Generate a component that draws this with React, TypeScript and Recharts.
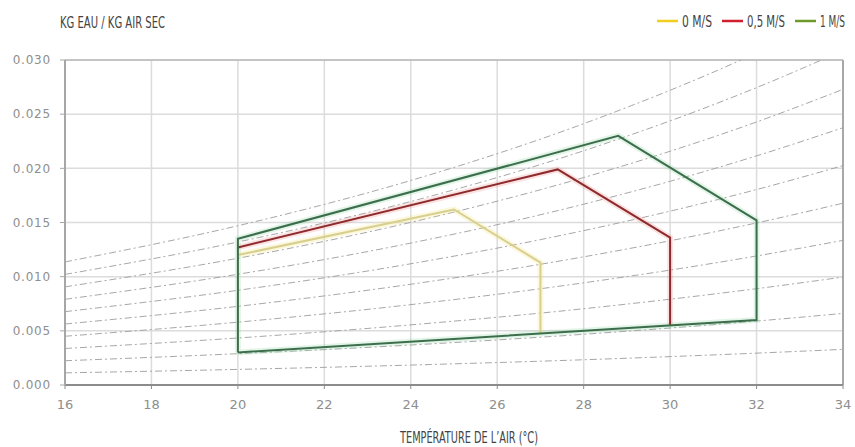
import React from 'react';
import {
  ComposedChart,
  Line,
  XAxis,
  YAxis,
  CartesianGrid,
  ReferenceLine,
  Legend,
  Label,
} from 'recharts';

// Axis ticks
const tempTicks = [16, 18, 20, 22, 24, 26, 28, 30, 32, 34];
const humidityTicks = [0, 0.005, 0.01, 0.015, 0.02, 0.025, 0.03];

// Relative-humidity curves (100 % down to 10 %), humidity ratio at each temperature
const curveTemps = [16, 20, 24, 28, 32, 34];
const rh100 = [0.01136, 0.0147, 0.01888, 0.02412, 0.03065, 0.0345];
const rh90 = [0.01021, 0.0132, 0.01694, 0.02162, 0.02745, 0.03087];
const rh80 = [0.00906, 0.0117, 0.01501, 0.01915, 0.02428, 0.02729];
const rh70 = [0.00791, 0.01022, 0.0131, 0.01669, 0.02115, 0.02375];
const rh60 = [0.00677, 0.00874, 0.01119, 0.01425, 0.01804, 0.02025];
const rh50 = [0.00563, 0.00726, 0.0093, 0.01183, 0.01496, 0.01678];
const rh40 = [0.0045, 0.0058, 0.00742, 0.00943, 0.01191, 0.01335];
const rh30 = [0.00337, 0.00434, 0.00555, 0.00704, 0.00889, 0.00996];
const rh20 = [0.00224, 0.00289, 0.00369, 0.00468, 0.0059, 0.00661];
const rh10 = [0.00112, 0.00144, 0.00184, 0.00233, 0.00294, 0.00329];
const rhCurves = [rh100, rh90, rh80, rh70, rh60, rh50, rh40, rh30, rh20, rh10];

// Comfort zone outlines for each air speed: temperature (°C), humidity ratio
const zone0Temp = [20, 25, 27, 27];
const zone0Hum = [0.012, 0.0162, 0.0113, 0.0048];
const zone05Temp = [20, 27.4, 30, 30];
const zone05Hum = [0.0127, 0.0199, 0.0136, 0.0055];
const zone1Temp = [20, 20, 28.8, 32, 32, 20];
const zone1Hum = [0.003, 0.0135, 0.023, 0.0152, 0.006, 0.003];

const legendLabels = ['0 M/S', '0,5 M/S', '1 M/S'];
const yAxisTitle = 'KG EAU / KG AIR SEC';
const xAxisTitle = 'TEMPÉRATURE DE L’AIR (°C)';

const toPoints = (ts: number[], ws: number[]) => ts.map((t, i) => ({ t, w: ws[i] }));

const zones = [
  { key: 'z0', data: toPoints(zone0Temp, zone0Hum), color: '#d8cf8e', halo: '#f3e27a' },
  { key: 'z05', data: toPoints(zone05Temp, zone05Hum), color: '#8e2a2c', halo: '#f08a8a' },
  { key: 'z1', data: toPoints(zone1Temp, zone1Hum), color: '#3c6e4c', halo: '#8fd6a4' },
];

const legendColors = ['#f2cd1f', '#d1202d', '#6e9a2b'];
const legendTextWidths = [30, 38, 25];

const condensedFont = "'Liberation Sans Narrow', 'DejaVu Sans Condensed', 'Liberation Sans', sans-serif";

const renderLegend = () => {
  let x = 6;
  const items = legendLabels.map((label, i) => {
    const sx = x;
    x += 25 + legendTextWidths[i] + 10;
    return (
      <g key={label}>
        <line x1={sx} x2={sx + 21} y1={11} y2={11} stroke={legendColors[i]} strokeWidth={2.5} />
        <text
          x={sx + 25 + legendTextWidths[i]}
          y={17}
          fontSize={15}
          fontFamily={condensedFont}
          fill="#444"
          textAnchor="end"
          textLength={legendTextWidths[i]}
          lengthAdjust="spacingAndGlyphs"
        >
          {label}
        </text>
      </g>
    );
  });
  return (
    <svg width={204} height={22} style={{ display: 'block', overflow: 'visible' }}>
      {items}
    </svg>
  );
};

export default function App() {
  return (
    <div style={{ position: 'absolute', left: 0, top: 0, width: 855, height: 447, background: '#fff' }}>
      <ComposedChart width={855} height={447} margin={{ top: 60, right: 12, bottom: 0, left: 0 }}>
        <CartesianGrid stroke="#dcdcdc" strokeWidth={1.5} />
        <XAxis
          type="number"
          dataKey="t"
          domain={[16, 34]}
          ticks={tempTicks}
          allowDataOverflow
          height={62}
          tickSize={4}
          tickMargin={11}
          axisLine={{ stroke: '#8c8c8c', strokeWidth: 2 }}
          tickLine={{ stroke: '#8c8c8c' }}
          tick={{ fontSize: 13, fill: '#8e8e8e', fontFamily: 'DejaVu Sans' }}
        >
          <Label
            content={(props: any) => {
              const vb = props.viewBox;
              return (
                <text
                  x={vb.x + vb.width / 2 + 15}
                  y={vb.y + 58}
                  fontSize={15}
                  fontFamily={condensedFont}
                  fill="#444"
                  textAnchor="middle"
                  textLength={138}
                  lengthAdjust="spacingAndGlyphs"
                >
                  {xAxisTitle}
                </text>
              );
            }}
          />
        </XAxis>
        <YAxis
          type="number"
          dataKey="w"
          domain={[0, 0.03]}
          ticks={humidityTicks}
          allowDataOverflow
          width={65}
          tickSize={5}
          tickMargin={9}
          tickFormatter={(v: number) => v.toFixed(3)}
          axisLine={{ stroke: '#a6a6a6', strokeWidth: 2 }}
          tickLine={{ stroke: '#a6a6a6' }}
          tick={{ fontSize: 12, fill: '#8e8e8e', fontFamily: 'DejaVu Sans', letterSpacing: 0.8 }}
        >
          <Label
            content={(props: any) => {
              const vb = props.viewBox;
              return (
                <text
                  x={vb.x + 60}
                  y={vb.y - 32}
                  fontSize={15}
                  fontFamily={condensedFont}
                  fill="#444"
                  textLength={105}
                  lengthAdjust="spacingAndGlyphs"
                >
                  {yAxisTitle}
                </text>
              );
            }}
          />
        </YAxis>
        <ReferenceLine y={0.03} stroke="#b8b8b8" strokeWidth={1.5} />
        <ReferenceLine x={34} stroke="#a8a8a8" strokeWidth={2} />

        {rhCurves.map((c, i) => (
          <Line
            key={`rh${i}`}
            data={toPoints(curveTemps, c)}
            dataKey="w"
            type="monotone"
            stroke="#9d9d9d"
            strokeWidth={0.9}
            strokeDasharray="7 3 2 3"
            dot={false}
            activeDot={false}
            isAnimationActive={false}
            legendType="none"
          />
        ))}

        {zones.map((z) => (
          <Line
            key={`${z.key}-halo`}
            data={z.data}
            dataKey="w"
            type="linear"
            stroke={z.halo}
            strokeOpacity={0.25}
            strokeWidth={6}
            dot={false}
            activeDot={false}
            isAnimationActive={false}
            legendType="none"
          />
        ))}
        {zones.map((z) => (
          <Line
            key={z.key}
            data={z.data}
            dataKey="w"
            type="linear"
            stroke={z.color}
            strokeWidth={2}
            dot={false}
            activeDot={false}
            isAnimationActive={false}
            legendType="none"
          />
        ))}

        <Legend
          layout="horizontal"
          verticalAlign="middle"
          align="center"
          content={renderLegend}
          wrapperStyle={{ top: 10, right: 0, left: 'auto', width: 204, height: 22 }}
        />
      </ComposedChart>
    </div>
  );
}
